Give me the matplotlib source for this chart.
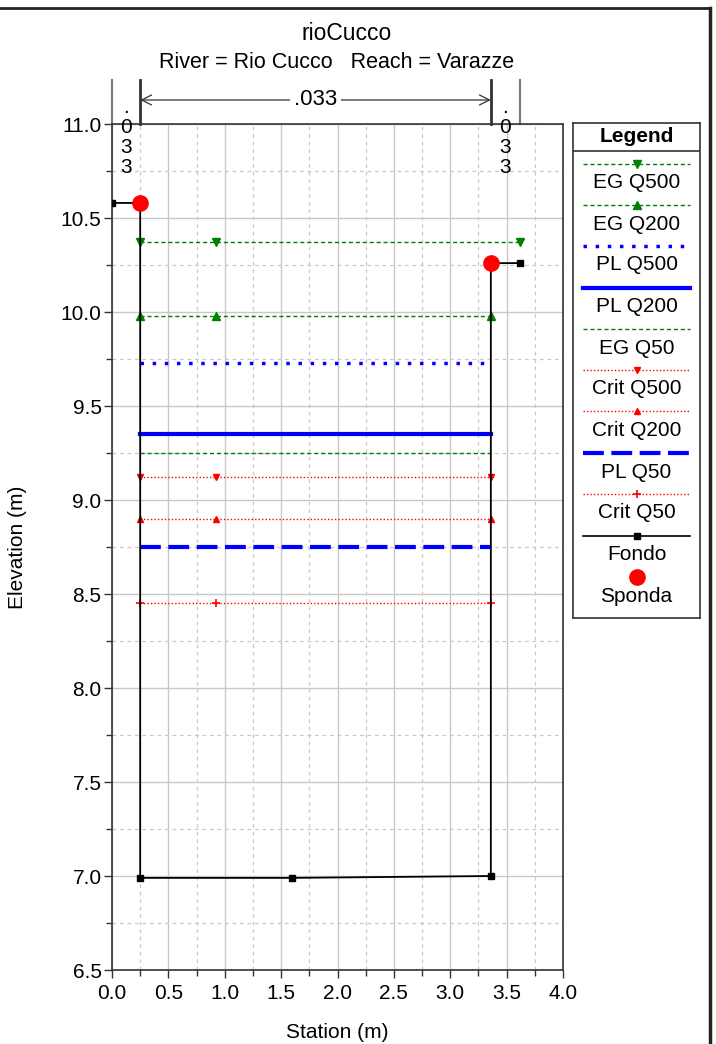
import matplotlib
matplotlib.use('Agg')
import matplotlib.pyplot as plt
from matplotlib.lines import Line2D
from matplotlib.ticker import MultipleLocator, FormatStrFormatter
import matplotlib.transforms as mtransforms

plt.rcParams['font.family'] = ['Liberation Sans', 'DejaVu Sans']

# ground profile (Fondo) and bank points (Sponda)
fondo_x = [0.0, 0.25, 0.25, 1.60, 3.36, 3.36, 3.62]
fondo_y = [10.58, 10.58, 6.99, 6.99, 7.00, 10.26, 10.26]
fondo_mark = [0, 2, 3, 4, 6]
sponda_x = [0.25, 3.36]
sponda_y = [10.58, 10.26]

# water surfaces
eg500_x = [0.25, 0.92, 3.62]
eg500_y = [10.37, 10.37, 10.37]
eg200_x = [0.25, 0.92, 3.36]
eg200_y = [9.98, 9.98, 9.98]
pl500_x = [0.25, 3.36]
pl500_y = [9.73, 9.73]
pl200_x = [0.25, 3.36]
pl200_y = [9.35, 9.35]
eg50_x = [0.25, 3.36]
eg50_y = [9.25, 9.25]
crit500_x = [0.25, 0.92, 3.36]
crit500_y = [9.12, 9.12, 9.12]
crit200_x = [0.25, 0.92, 3.36]
crit200_y = [8.90, 8.90, 8.90]
pl50_x = [0.25, 3.36]
pl50_y = [8.75, 8.75]
crit50_x = [0.25, 0.92, 3.36]
crit50_y = [8.45, 8.45, 8.45]

# Manning's n
n_value = ".033"
n_break_x = [0.0, 3.62]
bank_x = [0.25, 3.36]

FS = 15

STYLES = [
    ("EG Q500", dict(color='green', ls=(0, (3, 2)), lw=1.0, marker='v', ms=6)),
    ("EG Q200", dict(color='green', ls=(0, (3, 2)), lw=1.0, marker='^', ms=6)),
    ("PL Q500", dict(color='blue', ls=(0, (1, 2.5)), lw=2.5, marker=None)),
    ("PL Q200", dict(color='blue', ls='-', lw=3.0, marker=None)),
    ("EG Q50", dict(color='green', ls=(0, (3, 2)), lw=1.0, marker=None)),
    ("Crit Q500", dict(color='red', ls=(0, (1, 1.5)), lw=1.0, marker='v', ms=5)),
    ("Crit Q200", dict(color='red', ls=(0, (1, 1.5)), lw=1.0, marker='^', ms=5)),
    ("PL Q50", dict(color='blue', ls=(0, (5, 1.8)), lw=3.0, marker=None)),
    ("Crit Q50", dict(color='red', ls=(0, (1, 1.5)), lw=1.0, marker='+', ms=6, mew=1.2)),
]
SERIES = [(eg500_x, eg500_y), (eg200_x, eg200_y), (pl500_x, pl500_y), (pl200_x, pl200_y),
          (eg50_x, eg50_y), (crit500_x, crit500_y), (crit200_x, crit200_y),
          (pl50_x, pl50_y), (crit50_x, crit50_y)]

fig = plt.figure(figsize=(7.16, 10.44), dpi=100)
ax = fig.add_axes([112 / 716, 1 - 970 / 1044, 451 / 716, 846 / 1044])

ax.set_xlim(0, 4.0)
ax.set_ylim(6.5, 11.0)
ax.xaxis.set_major_locator(MultipleLocator(0.5))
ax.xaxis.set_minor_locator(MultipleLocator(0.25))
ax.yaxis.set_major_locator(MultipleLocator(0.5))
ax.yaxis.set_minor_locator(MultipleLocator(0.25))
ax.xaxis.set_major_formatter(FormatStrFormatter('%.1f'))
ax.yaxis.set_major_formatter(FormatStrFormatter('%.1f'))
ax.tick_params(which='major', direction='out', length=6, width=1, labelsize=FS, color='#333333')
ax.tick_params(axis='y', which='major', pad=1.5)
ax.tick_params(axis='x', which='major', pad=4)
ax.tick_params(which='minor', direction='out', length=4, width=1, color='#333333')
ax.grid(which='major', color='#c8c8c8', lw=1.0, ls='-')
ax.grid(which='minor', color='#c8c8c8', lw=0.9, ls=(0, (3, 3)))
ax.set_axisbelow(True)
for sp in ax.spines.values():
    sp.set_linewidth(1.2)
    sp.set_color('#333333')

ax.set_xlabel("Station (m)", fontsize=FS, va='center')
ax.xaxis.set_label_coords(0.5, (970 - 1032) / 846)
ax.set_ylabel("Elevation (m)", fontsize=FS, va='center')
ax.yaxis.set_label_coords((18 - 112) / 451, 0.5)

for (name, st), (xs, ys) in zip(STYLES, SERIES):
    ax.plot(xs, ys, label=name, zorder=3, **st)

ax.plot(fondo_x, fondo_y, color='black', lw=1.3, zorder=4)
ax.plot([fondo_x[i] for i in fondo_mark], [fondo_y[i] for i in fondo_mark],
        ls='none', marker='s', color='black', ms=5, zorder=5)
ax.plot(sponda_x, sponda_y, ls='none', marker='o', color='red', ms=11, zorder=6)

# Manning's n markers above the axes
trans = mtransforms.blended_transform_factory(ax.transData, ax.transAxes)
for x in n_break_x:
    ax.plot([x, x], [1.0, 1.052], color='#777777', lw=1.5, transform=trans, clip_on=False)
for x in bank_x:
    ax.plot([x, x], [1.0, 1.052], color='#333333', lw=2.0, transform=trans, clip_on=False)
ax.annotate("", xy=(bank_x[0], 1.0284), xytext=(bank_x[1], 1.0284), xycoords=trans,
            textcoords=trans, arrowprops=dict(arrowstyle='<->', lw=0.9, color='#333333',
                                              shrinkA=0, shrinkB=0, mutation_scale=18))
ax.text(sum(bank_x) / 2, 1.0284, n_value, transform=trans, ha='center', va='center',
        fontsize=FS + 1, bbox=dict(facecolor='white', edgecolor='none', pad=3))
stack = "\n".join(n_value)
for xc in [(n_break_x[0] + bank_x[0]) / 2, (bank_x[1] + n_break_x[1]) / 2]:
    ax.text(xc, 1.031, stack, transform=trans, ha='center', va='top',
            fontsize=FS, linespacing=1.08)

# titles
fig.text(347 / 716, 1 - 34 / 1044, "rioCucco", ha='center', va='center', fontsize=16.5)
fig.text(337 / 716, 1 - 62 / 1044, "River = Rio Cucco   Reach = Varazze", ha='center',
         va='center', fontsize=15.5)

# legend box
lg = fig.add_axes([573 / 716, 1 - 618 / 1044, 127 / 716, 495 / 1044])
lg.set_xlim(573, 700)
lg.set_ylim(618, 123)
lg.set_xticks([])
lg.set_yticks([])
for sp in lg.spines.values():
    sp.set_linewidth(1.2)
    sp.set_color('#333333')
lg.text(636.5, 136, "Legend", ha='center', va='center', fontsize=FS, fontweight='bold')
lg.axhline(151, color='#333333', lw=1.2)
line_y = [164, 205, 246, 288, 329, 370, 411, 453, 494]
for (name, st), yy in zip(STYLES, line_y):
    st2 = dict(st)
    mk = st2.pop('marker')
    ms = st2.pop('ms', 6)
    mew = st2.pop('mew', 1.0)
    lg.plot([583, 690], [yy, yy], color=st2['color'], ls=st2['ls'], lw=st2['lw'])
    if mk:
        lg.plot([637], [yy], marker=mk, color=st2['color'], ms=ms, mew=mew, ls='none')
    lg.text(636.5, yy + 19, name, ha='center', va='center', fontsize=FS)
lg.plot([583, 690], [536, 536], color='black', lw=1.2)
lg.plot([637], [536], marker='s', color='black', ms=5)
lg.text(636.5, 555, "Fondo", ha='center', va='center', fontsize=FS)
lg.plot([637], [577], marker='o', color='red', ms=11)
lg.text(636.5, 597, "Sponda", ha='center', va='center', fontsize=FS)

# outer frame (top and right)
fig.add_artist(Line2D([0, 710 / 716], [1 - 8 / 1044, 1 - 8 / 1044], color='#222222', lw=2))
fig.add_artist(Line2D([710 / 716, 710 / 716], [1 - 8 / 1044, 0], color='#222222', lw=2.5))

fig.savefig("out.png", dpi=100)
